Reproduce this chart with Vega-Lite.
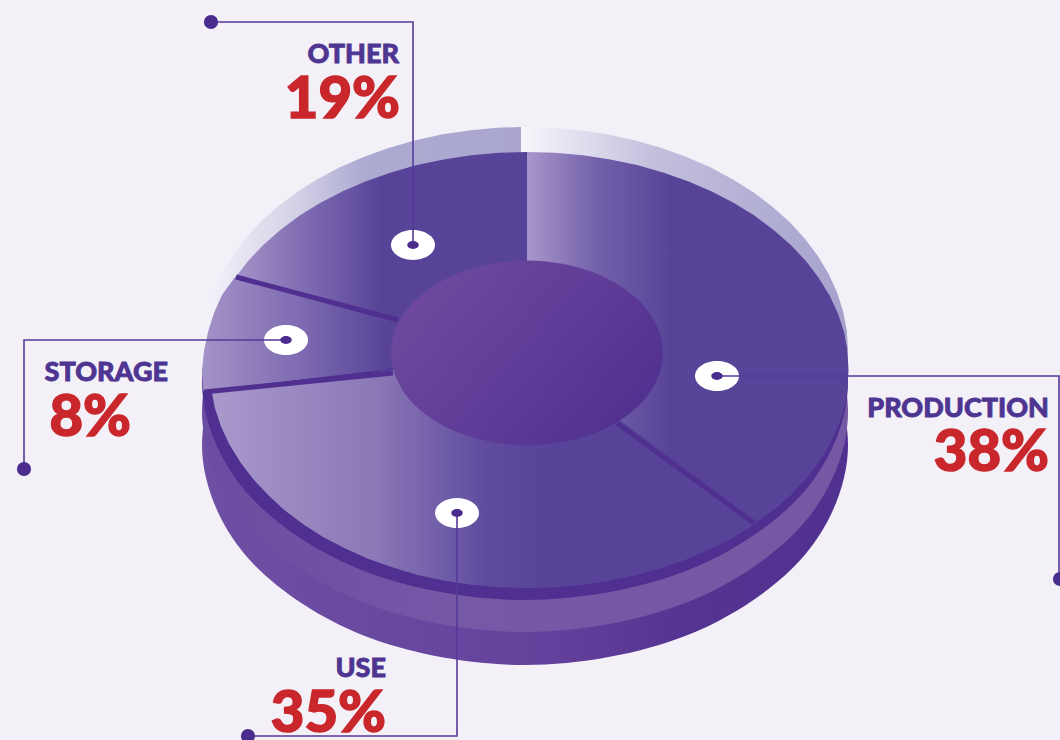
{"$schema":"https://vega.github.io/schema/vega-lite/v6.json","width":1060,"height":740,"padding":0,"autosize":{"type":"none"},"background":"#f3f0f8","config":{"view":{"stroke":null}},
"datasets":{
"shapes":[
{"p":"bottom","i":0,"x":848,"y":445},{"p":"bottom","i":1,"x":804.7,"y":555},{"p":"bottom","i":2,"x":686.5,"y":635.5},{"p":"bottom","i":3,"x":525,"y":665},{"p":"bottom","i":4,"x":363.5,"y":635.5},{"p":"bottom","i":5,"x":245.3,"y":555},{"p":"bottom","i":6,"x":202,"y":445},{"p":"bottom","i":7,"x":245.3,"y":335},{"p":"bottom","i":8,"x":363.5,"y":254.5},{"p":"bottom","i":9,"x":525,"y":225},{"p":"bottom","i":10,"x":686.5,"y":254.5},{"p":"bottom","i":11,"x":804.7,"y":335},
{"p":"middle","i":0,"x":848,"y":412},{"p":"middle","i":1,"x":804.7,"y":522},{"p":"middle","i":2,"x":686.5,"y":602.5},{"p":"middle","i":3,"x":525,"y":632},{"p":"middle","i":4,"x":363.5,"y":602.5},{"p":"middle","i":5,"x":245.3,"y":522},{"p":"middle","i":6,"x":202,"y":412},{"p":"middle","i":7,"x":245.3,"y":302},{"p":"middle","i":8,"x":363.5,"y":221.5},{"p":"middle","i":9,"x":525,"y":192},{"p":"middle","i":10,"x":686.5,"y":221.5},{"p":"middle","i":11,"x":804.7,"y":302},
{"p":"band","i":0,"x":848,"y":382},{"p":"band","i":1,"x":804.7,"y":491},{"p":"band","i":2,"x":686.5,"y":570.8},{"p":"band","i":3,"x":525,"y":600},{"p":"band","i":4,"x":363.5,"y":570.8},{"p":"band","i":5,"x":245.3,"y":491},{"p":"band","i":6,"x":202,"y":382},{"p":"band","i":7,"x":245.3,"y":273},{"p":"band","i":8,"x":363.5,"y":193.2},{"p":"band","i":9,"x":525,"y":164},{"p":"band","i":10,"x":686.5,"y":193.2},{"p":"band","i":11,"x":804.7,"y":273},
{"p":"hub","i":0,"x":663,"y":353},{"p":"hub","i":1,"x":644.8,"y":399.3},{"p":"hub","i":2,"x":595,"y":433.1},{"p":"hub","i":3,"x":527,"y":445.5},{"p":"hub","i":4,"x":459,"y":433.1},{"p":"hub","i":5,"x":409.2,"y":399.3},{"p":"hub","i":6,"x":391,"y":353},{"p":"hub","i":7,"x":409.2,"y":306.7},{"p":"hub","i":8,"x":459,"y":272.9},{"p":"hub","i":9,"x":527,"y":260.5},{"p":"hub","i":10,"x":595,"y":272.9},{"p":"hub","i":11,"x":644.8,"y":306.7},
{"p":"rimR","i":0,"x":521,"y":350},{"p":"rimR","i":1,"x":521,"y":127},{"p":"rimR","i":2,"x":553.2,"y":127.8},{"p":"rimR","i":3,"x":581.1,"y":130.4},{"p":"rimR","i":4,"x":608.6,"y":134.6},{"p":"rimR","i":5,"x":635.5,"y":140.4},{"p":"rimR","i":6,"x":661.5,"y":147.9},{"p":"rimR","i":7,"x":686.5,"y":156.9},{"p":"rimR","i":8,"x":710.3,"y":167.3},{"p":"rimR","i":9,"x":732.6,"y":179.2},{"p":"rimR","i":10,"x":753.4,"y":192.3},{"p":"rimR","i":11,"x":772.4,"y":206.7},{"p":"rimR","i":12,"x":789.6,"y":222.1},{"p":"rimR","i":13,"x":804.7,"y":238.5},{"p":"rimR","i":14,"x":817.7,"y":255.8},{"p":"rimR","i":15,"x":828.5,"y":273.7},{"p":"rimR","i":16,"x":837,"y":292.3},{"p":"rimR","i":17,"x":843.1,"y":311.3},{"p":"rimR","i":18,"x":846.8,"y":330.6},{"p":"rimR","i":19,"x":848,"y":350},
{"p":"rimL","i":0,"x":521,"y":350},{"p":"rimL","i":1,"x":202,"y":350},{"p":"rimL","i":2,"x":203.2,"y":330.6},{"p":"rimL","i":3,"x":206.9,"y":311.3},{"p":"rimL","i":4,"x":213,"y":292.3},{"p":"rimL","i":5,"x":221.5,"y":273.7},{"p":"rimL","i":6,"x":232.3,"y":255.8},{"p":"rimL","i":7,"x":245.3,"y":238.5},{"p":"rimL","i":8,"x":260.4,"y":222.1},{"p":"rimL","i":9,"x":277.6,"y":206.7},{"p":"rimL","i":10,"x":296.6,"y":192.3},{"p":"rimL","i":11,"x":317.4,"y":179.2},{"p":"rimL","i":12,"x":339.7,"y":167.3},{"p":"rimL","i":13,"x":363.5,"y":156.9},{"p":"rimL","i":14,"x":388.5,"y":147.9},{"p":"rimL","i":15,"x":414.5,"y":140.4},{"p":"rimL","i":16,"x":441.4,"y":134.6},{"p":"rimL","i":17,"x":468.9,"y":130.4},{"p":"rimL","i":18,"x":496.8,"y":127.8},{"p":"rimL","i":19,"x":521,"y":127},
{"p":"production","i":0,"x":527,"y":353},{"p":"production","i":1,"x":527,"y":152},{"p":"production","i":2,"x":555.1,"y":152.8},{"p":"production","i":3,"x":582.9,"y":155.3},{"p":"production","i":4,"x":610.3,"y":159.4},{"p":"production","i":5,"x":637.1,"y":165.1},{"p":"production","i":6,"x":663.1,"y":172.4},{"p":"production","i":7,"x":688,"y":181.2},{"p":"production","i":8,"x":711.7,"y":191.4},{"p":"production","i":9,"x":734,"y":203},{"p":"production","i":10,"x":754.7,"y":215.8},{"p":"production","i":11,"x":773.7,"y":229.9},{"p":"production","i":12,"x":790.8,"y":245},{"p":"production","i":13,"x":805.9,"y":261},{"p":"production","i":14,"x":818.8,"y":277.9},{"p":"production","i":15,"x":829.6,"y":295.4},{"p":"production","i":16,"x":838,"y":313.6},{"p":"production","i":17,"x":844.1,"y":332.1},{"p":"production","i":18,"x":847.5,"y":351},{"p":"production","i":19,"x":848.5,"y":370},{"p":"production","i":20,"x":847.5,"y":389},{"p":"production","i":21,"x":844.1,"y":407.9},{"p":"production","i":22,"x":838,"y":426.4},{"p":"production","i":23,"x":829.6,"y":444.6},{"p":"production","i":24,"x":818.8,"y":462.1},{"p":"production","i":25,"x":805.9,"y":479},{"p":"production","i":26,"x":790.8,"y":495},{"p":"production","i":27,"x":773.7,"y":510.1},{"p":"production","i":28,"x":758,"y":521},
{"p":"use","i":0,"x":527,"y":353},{"p":"use","i":1,"x":758,"y":521},{"p":"use","i":2,"x":754.7,"y":524.2},{"p":"use","i":3,"x":734,"y":537},{"p":"use","i":4,"x":711.7,"y":548.6},{"p":"use","i":5,"x":688,"y":558.8},{"p":"use","i":6,"x":663.1,"y":567.6},{"p":"use","i":7,"x":637.1,"y":574.9},{"p":"use","i":8,"x":610.3,"y":580.6},{"p":"use","i":9,"x":582.9,"y":584.7},{"p":"use","i":10,"x":555.1,"y":587.2},{"p":"use","i":11,"x":527,"y":588},{"p":"use","i":12,"x":498.9,"y":587.2},{"p":"use","i":13,"x":471.1,"y":584.7},{"p":"use","i":14,"x":443.7,"y":580.6},{"p":"use","i":15,"x":417.9,"y":574.9},{"p":"use","i":16,"x":392.9,"y":567.6},{"p":"use","i":17,"x":368,"y":558.8},{"p":"use","i":18,"x":345.3,"y":548.6},{"p":"use","i":19,"x":323,"y":537},{"p":"use","i":20,"x":303.3,"y":524.2},{"p":"use","i":21,"x":284.3,"y":510.1},{"p":"use","i":22,"x":268.2,"y":495},{"p":"use","i":23,"x":253.1,"y":479},{"p":"use","i":24,"x":240.2,"y":462.1},{"p":"use","i":25,"x":229.4,"y":444.6},{"p":"use","i":26,"x":221,"y":426.4},{"p":"use","i":27,"x":214.9,"y":407.9},{"p":"use","i":28,"x":212,"y":393},
{"p":"storage","i":0,"x":527,"y":353},{"p":"storage","i":1,"x":203,"y":391},{"p":"storage","i":2,"x":202,"y":370},{"p":"storage","i":3,"x":204,"y":351},{"p":"storage","i":4,"x":208,"y":332},{"p":"storage","i":5,"x":214,"y":313},{"p":"storage","i":6,"x":222,"y":295},{"p":"storage","i":7,"x":235,"y":277},
{"p":"other","i":0,"x":527,"y":353},{"p":"other","i":1,"x":235,"y":278},{"p":"other","i":2,"x":248.1,"y":261},{"p":"other","i":3,"x":263.2,"y":245},{"p":"other","i":4,"x":280.3,"y":229.9},{"p":"other","i":5,"x":299.3,"y":215.8},{"p":"other","i":6,"x":320,"y":203},{"p":"other","i":7,"x":342.3,"y":191.4},{"p":"other","i":8,"x":366,"y":181.2},{"p":"other","i":9,"x":390.9,"y":172.4},{"p":"other","i":10,"x":416.9,"y":165.1},{"p":"other","i":11,"x":443.7,"y":159.4},{"p":"other","i":12,"x":471.1,"y":155.3},{"p":"other","i":13,"x":498.9,"y":152.8},{"p":"other","i":14,"x":527,"y":152}
],
"dividers":[
{"d":"a","i":0,"x":617,"y":423},{"d":"a","i":1,"x":754,"y":523},
{"d":"b","i":0,"x":393,"y":373},{"d":"b","i":1,"x":204,"y":392},
{"d":"c","i":0,"x":398,"y":320},{"d":"c","i":1,"x":236,"y":277}
],
"leaders":[
{"name":"OTHER","i":0,"x":211,"y":22},{"name":"OTHER","i":1,"x":413,"y":22},{"name":"OTHER","i":2,"x":413,"y":245},
{"name":"STORAGE","i":0,"x":286,"y":340},{"name":"STORAGE","i":1,"x":24,"y":340},{"name":"STORAGE","i":2,"x":24,"y":469},
{"name":"PRODUCTION","i":0,"x":717,"y":376},{"name":"PRODUCTION","i":1,"x":1059,"y":376},{"name":"PRODUCTION","i":2,"x":1059,"y":579},
{"name":"USE","i":0,"x":457,"y":513},{"name":"USE","i":1,"x":457,"y":736},{"name":"USE","i":2,"x":248,"y":736}
],
"segments":[
{"name":"OTHER","share":0.19,"x":413,"y":245,"endX":211,"endY":22,"labelX":399,"labelY":63,"valueX":400,"valueY":118},
{"name":"STORAGE","share":0.08,"x":286,"y":340,"endX":24,"endY":469,"labelX":168,"labelY":381,"valueX":131,"valueY":436},
{"name":"PRODUCTION","share":0.38,"x":717,"y":376,"endX":1060,"endY":579,"labelX":1049,"labelY":417,"valueX":1049,"valueY":471},
{"name":"USE","share":0.35,"x":457,"y":513,"endX":248,"endY":736,"labelX":386,"labelY":677,"valueX":386,"valueY":732}
]},
"data":{"name":"shapes"},
"encoding":{"x":{"field":"x","type":"quantitative","axis":null,"scale":{"domain":[0,1060],"nice":false,"zero":false}},"y":{"field":"y","type":"quantitative","axis":null,"scale":{"domain":[740,0],"nice":false,"zero":false}},"order":{"field":"i","type":"quantitative"}},
"layer":[
{"transform":[{"filter":"datum.p==='bottom'"}],"mark":{"type":"line","interpolate":"cardinal-closed","strokeWidth":0,"fill":{"gradient":"linear","x1":0,"x2":1,"y1":0,"y2":0,"stops":[{"offset":0,"color":"#6f4fa4"},{"offset":0.5,"color":"#65439d"},{"offset":0.75,"color":"#553391"},{"offset":1,"color":"#503190"}]}}},
{"transform":[{"filter":"datum.p==='middle'"}],"mark":{"type":"line","interpolate":"cardinal-closed","strokeWidth":0,"fill":{"gradient":"linear","x1":0,"x2":1,"y1":0,"y2":0,"stops":[{"offset":0,"color":"#6a4ca2"},{"offset":0.4,"color":"#7558a6"},{"offset":1,"color":"#7558a3"}]}}},
{"transform":[{"filter":"datum.p==='band'"}],"mark":{"type":"line","interpolate":"cardinal-closed","strokeWidth":0,"fill":"#4f3090"}},
{"transform":[{"filter":"datum.p==='rimL'"}],"mark":{"type":"line","strokeWidth":0,"fill":{"gradient":"linear","x1":0,"x2":1,"y1":0,"y2":0,"stops":[{"offset":0,"color":"#f5f3fa"},{"offset":0.3,"color":"#d3d1e6"},{"offset":0.5,"color":"#aeabd2"},{"offset":1,"color":"#a9a5cf"}]}}},
{"transform":[{"filter":"datum.p==='rimR'"}],"mark":{"type":"line","strokeWidth":0,"fill":{"gradient":"linear","x1":0,"x2":1,"y1":0,"y2":0,"stops":[{"offset":0,"color":"#f8f7fc"},{"offset":0.4,"color":"#c3c0dd"},{"offset":1,"color":"#a5a1cd"}]}}},
{"transform":[{"filter":"datum.p==='production'"}],"mark":{"type":"line","strokeWidth":0,"fill":{"gradient":"linear","x1":0,"x2":1,"y1":0,"y2":0,"stops":[{"offset":0,"color":"#a896cc"},{"offset":0.22,"color":"#7260aa"},{"offset":0.45,"color":"#574498"},{"offset":1,"color":"#574498"}]}}},
{"transform":[{"filter":"datum.p==='use'"}],"mark":{"type":"line","strokeWidth":0,"fill":{"gradient":"linear","x1":0,"x2":1,"y1":0,"y2":0,"stops":[{"offset":0,"color":"#a999cc"},{"offset":0.3,"color":"#8b78b6"},{"offset":0.5,"color":"#5f4c9f"},{"offset":0.62,"color":"#574498"},{"offset":1,"color":"#574498"}]}}},
{"transform":[{"filter":"datum.p==='storage'"}],"mark":{"type":"line","strokeWidth":0,"fill":{"gradient":"linear","x1":0,"x2":1,"y1":0,"y2":0,"stops":[{"offset":0,"color":"#a493c8"},{"offset":0.3,"color":"#7e6bb1"},{"offset":0.57,"color":"#574498"},{"offset":1,"color":"#574498"}]}}},
{"transform":[{"filter":"datum.p==='other'"}],"mark":{"type":"line","strokeWidth":0,"fill":{"gradient":"linear","x1":0,"x2":1,"y1":0,"y2":0,"stops":[{"offset":0,"color":"#a593c8"},{"offset":0.3,"color":"#7662ac"},{"offset":0.5,"color":"#574498"},{"offset":1,"color":"#574498"}]}}},
{"data":{"name":"dividers"},"mark":{"type":"line","stroke":"#4f3090","strokeWidth":5},"encoding":{"detail":{"field":"d"}}},
{"transform":[{"filter":"datum.p==='hub'"}],"mark":{"type":"line","interpolate":"cardinal-closed","strokeWidth":0,"fill":{"gradient":"linear","x1":0,"x2":1,"y1":0.2,"y2":0.8,"stops":[{"offset":0,"color":"#704a9f"},{"offset":0.5,"color":"#603d98"},{"offset":1,"color":"#4f2f8e"}]}}},
{"data":{"name":"segments"},"mark":{"type":"point","filled":true,"fill":"#ffffff","opacity":1,"strokeWidth":0,"size":1936,"shape":"M-1,0A1,.68 0 1,1 1,0A1,.68 0 1,1 -1,0Z"},"encoding":{"order":null}},
{"data":{"name":"leaders"},"mark":{"type":"line","stroke":"#553a98","strokeWidth":1.6},"encoding":{"detail":{"field":"name"}}},
{"data":{"name":"segments"},"mark":{"type":"point","filled":true,"fill":"#4a2c8e","opacity":1,"strokeWidth":0,"size":130,"shape":"M-1,0A1,.68 0 1,1 1,0A1,.68 0 1,1 -1,0Z"},"encoding":{"order":null}},
{"data":{"name":"segments"},"mark":{"type":"point","shape":"circle","filled":true,"fill":"#4a2c8e","opacity":1,"strokeWidth":0,"size":200},"encoding":{"order":null,"x":{"field":"endX","type":"quantitative","axis":null,"scale":{"domain":[0,1060],"nice":false,"zero":false}},"y":{"field":"endY","type":"quantitative","axis":null,"scale":{"domain":[740,0],"nice":false,"zero":false}}}},
{"data":{"name":"segments"},"mark":{"type":"text","align":"right","baseline":"alphabetic","font":"Lato","fontWeight":900,"fontSize":27,"fill":"#4e3591","stroke":"#4e3591","strokeWidth":0.8},"encoding":{"order":null,"text":{"field":"name"},"x":{"field":"labelX","type":"quantitative","axis":null,"scale":{"domain":[0,1060],"nice":false,"zero":false}},"y":{"field":"labelY","type":"quantitative","axis":null,"scale":{"domain":[740,0],"nice":false,"zero":false}}}},
{"data":{"name":"segments"},"mark":{"type":"text","align":"right","baseline":"alphabetic","font":"Lato","fontWeight":900,"fontSize":58,"fill":"#c9272c","stroke":"#c9272c","strokeWidth":1.5},"encoding":{"order":null,"text":{"field":"share","format":".0%"},"x":{"field":"valueX","type":"quantitative","axis":null,"scale":{"domain":[0,1060],"nice":false,"zero":false}},"y":{"field":"valueY","type":"quantitative","axis":null,"scale":{"domain":[740,0],"nice":false,"zero":false}}}}
]}
